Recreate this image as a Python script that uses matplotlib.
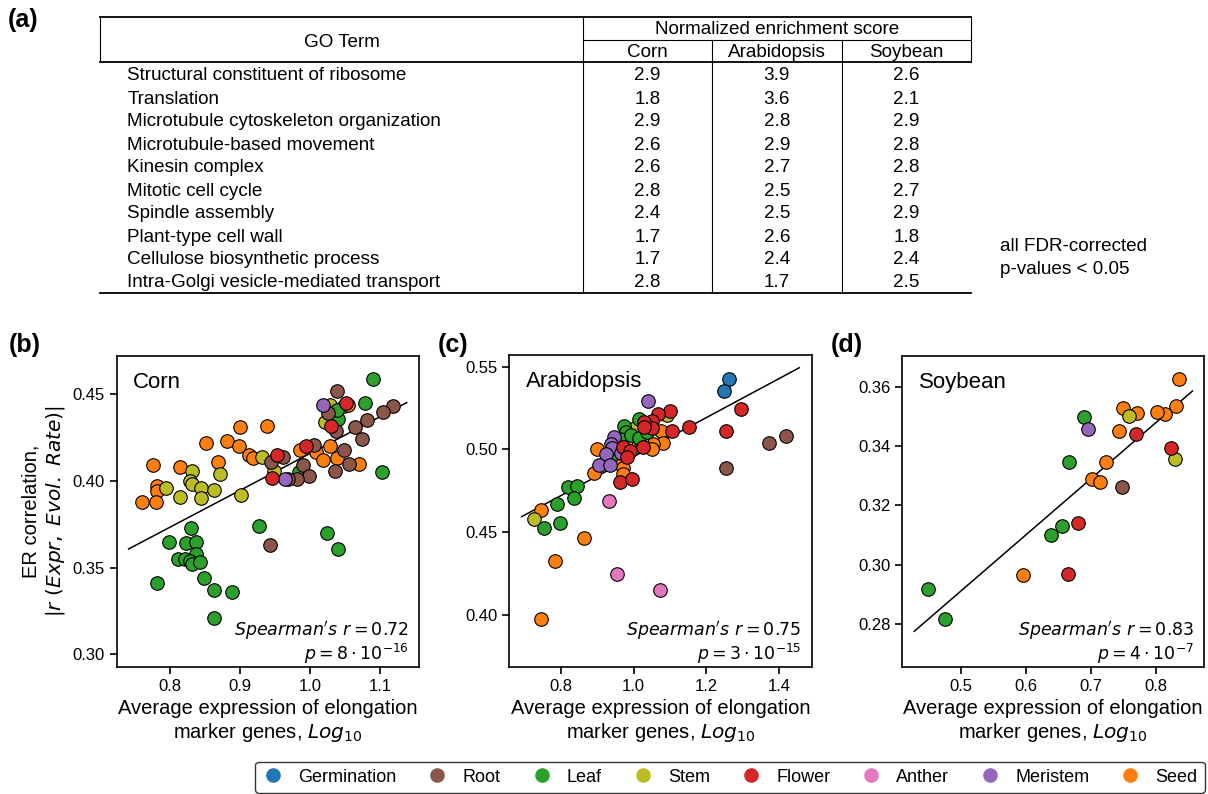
import matplotlib
matplotlib.use('Agg')
import matplotlib.pyplot as plt
from matplotlib.lines import Line2D

plt.rcParams['font.family'] = ['Liberation Sans', 'DejaVu Sans']
plt.rcParams['mathtext.fontset'] = 'dejavusans'

W, H = 1208, 794

# ---- table data (a)
go_terms = ['Structural constituent of ribosome', 'Translation',
            'Microtubule cytoskeleton organization', 'Microtubule-based movement',
            'Kinesin complex', 'Mitotic cell cycle', 'Spindle assembly',
            'Plant-type cell wall', 'Cellulose biosynthetic process',
            'Intra-Golgi vesicle-mediated transport']
species = ['Corn', 'Arabidopsis', 'Soybean']
nes_corn = [2.9, 1.8, 2.9, 2.6, 2.6, 2.8, 2.4, 1.7, 1.7, 2.8]
nes_arab = [3.9, 3.6, 2.8, 2.9, 2.7, 2.5, 2.5, 2.6, 2.4, 1.7]
nes_soy = [2.6, 2.1, 2.9, 2.8, 2.8, 2.7, 2.9, 1.8, 2.4, 2.5]

# ---- tissues
tissues = ['Germination', 'Root', 'Leaf', 'Stem', 'Flower', 'Anther', 'Meristem', 'Seed']
tissue_colors = ['#1f77b4', '#8c564b', '#2ca02c', '#bcbd22', '#d62728', '#e377c2', '#9467bd', '#ff7f0e']
draw_order = ['Seed', 'Stem', 'Leaf', 'Root', 'Meristem', 'Anther', 'Germination', 'Flower']

# ---- corn (b)
corn_seed_x = [0.900, 0.939, 0.851, 0.882, 0.898, 0.913, 0.919, 0.776, 0.814, 0.868, 0.781, 0.781, 0.760, 0.780,
               0.986, 1.009, 1.029, 1.018, 1.038, 1.070, 1.048, 1.054]
corn_seed_y = [0.431, 0.432, 0.422, 0.423, 0.420, 0.415, 0.413, 0.409, 0.408, 0.411, 0.397, 0.394, 0.388, 0.388,
               0.418, 0.417, 0.420, 0.412, 0.413, 0.410, 0.443, 0.444]
corn_stem_x = [1.028, 1.021, 0.931, 0.949, 0.832, 0.829, 0.831, 0.795, 0.844, 0.863, 0.872, 0.814, 0.845, 0.902]
corn_stem_y = [0.444, 0.434, 0.414, 0.406, 0.406, 0.400, 0.398, 0.396, 0.396, 0.395, 0.404, 0.391, 0.390, 0.392]
corn_leaf_x = [1.090, 1.079, 1.040, 1.038, 1.103, 0.984, 0.927, 1.024, 1.040, 0.830, 0.799, 0.823, 0.837, 0.837,
               0.812, 0.821, 0.829, 0.832, 0.843, 0.781, 0.849, 0.863, 0.889, 0.863]
corn_leaf_y = [0.459, 0.445, 0.436, 0.441, 0.405, 0.405, 0.374, 0.370, 0.361, 0.373, 0.365, 0.364, 0.365, 0.358,
               0.355, 0.355, 0.354, 0.352, 0.353, 0.341, 0.344, 0.337, 0.336, 0.321]
corn_root_x = [1.038, 1.119, 1.104, 1.082, 1.064, 1.037, 1.025, 1.074, 1.048, 1.055, 1.036, 1.006, 0.990, 0.999,
               0.981, 0.968, 0.962, 0.944, 0.943]
corn_root_y = [0.452, 0.443, 0.440, 0.435, 0.431, 0.429, 0.439, 0.424, 0.418, 0.410, 0.406, 0.421, 0.409, 0.403,
               0.401, 0.401, 0.414, 0.411, 0.363]
corn_flower_x = [1.052, 1.030, 0.953, 0.994, 0.945]
corn_flower_y = [0.445, 0.432, 0.415, 0.420, 0.402]
corn_meristem_x = [1.018, 0.964]
corn_meristem_y = [0.444, 0.401]
corn_fit_x = [0.741, 1.138]
corn_fit_y = [0.3608, 0.4452]

# ---- arabidopsis (c)
arab_germ_x = [1.261, 1.249]
arab_germ_y = [0.5423, 0.5355]
arab_flower_x = [1.296, 1.254, 1.151, 1.105, 1.101, 1.068, 1.050, 1.050, 1.029, 1.029, 1.025, 0.972, 0.990, 0.981,
                 0.962, 0.996]
arab_flower_y = [0.5242, 0.5113, 0.5133, 0.5111, 0.5234, 0.5212, 0.5173, 0.5127, 0.5167, 0.5137, 0.5012, 0.5016,
                 0.4992, 0.4956, 0.4804, 0.4821]
arab_root_x = [1.419, 1.371, 1.254]
arab_root_y = [0.5081, 0.5036, 0.4889]
arab_seed_x = [1.074, 1.082, 1.054, 1.052, 0.999, 0.899, 0.891, 0.963, 0.972, 0.970, 0.745, 0.864, 0.785, 0.745]
arab_seed_y = [0.5111, 0.5036, 0.5030, 0.5000, 0.5026, 0.5002, 0.4859, 0.4915, 0.4885, 0.4849, 0.4631, 0.4466,
               0.4327, 0.3972]
arab_stem_x = [1.093, 1.004, 0.980, 1.022, 0.728]
arab_stem_y = [0.5206, 0.5131, 0.5056, 0.5036, 0.4579]
arab_leaf_x = [1.015, 0.975, 0.978, 0.963, 0.992, 1.015, 1.036, 0.940, 0.820, 0.846, 0.837, 0.789, 0.753, 0.798]
arab_leaf_y = [0.5183, 0.5143, 0.5107, 0.5062, 0.5087, 0.5067, 0.5107, 0.4966, 0.4770, 0.4780, 0.4708, 0.4667,
               0.4522, 0.4552]
arab_meristem_x = [1.041, 0.947, 0.937, 0.940, 0.924, 0.906, 0.935, 0.965]
arab_meristem_y = [0.5292, 0.5077, 0.5030, 0.5006, 0.4972, 0.4905, 0.4905, 0.4976]
arab_anther_x = [0.933, 0.954, 1.072]
arab_anther_y = [0.4688, 0.4244, 0.4149]
arab_fit_x = [0.693, 1.455]
arab_fit_y = [0.4593, 0.5494]

# ---- soybean (d)
soy_seed_x = [0.836, 0.830, 0.814, 0.801, 0.770, 0.749, 0.743, 0.723, 0.701, 0.714, 0.595]
soy_seed_y = [0.3625, 0.3533, 0.3508, 0.3514, 0.3510, 0.3527, 0.3449, 0.3346, 0.3289, 0.3280, 0.2965]
soy_stem_x = [0.759, 0.829]
soy_stem_y = [0.3501, 0.3356]
soy_leaf_x = [0.689, 0.666, 0.655, 0.639, 0.449, 0.475]
soy_leaf_y = [0.3496, 0.3346, 0.3131, 0.3101, 0.2920, 0.2819]
soy_meristem_x = [0.696]
soy_meristem_y = [0.3458]
soy_flower_x = [0.769, 0.823, 0.680, 0.664]
soy_flower_y = [0.3440, 0.3392, 0.3141, 0.2970]
soy_root_x = [0.747]
soy_root_y = [0.3262]
soy_fit_x = [0.428, 0.856]
soy_fit_y = [0.2776, 0.3585]

panels = [
    dict(name='Corn', letter='(b)',
         pts={'Seed': (corn_seed_x, corn_seed_y), 'Stem': (corn_stem_x, corn_stem_y),
              'Leaf': (corn_leaf_x, corn_leaf_y), 'Root': (corn_root_x, corn_root_y),
              'Meristem': (corn_meristem_x, corn_meristem_y), 'Flower': (corn_flower_x, corn_flower_y)},
         fit=(corn_fit_x, corn_fit_y), r='0.72', p='8', e='-16',
         xlim=(0.724, 1.156), ylim=(0.2929, 0.4721),
         xticks=[0.8, 0.9, 1.0, 1.1], yticks=[0.30, 0.35, 0.40, 0.45], yfmt='%.2f', xfmt='%.1f',
         box=(116.7, 356, 419.3, 666.7)),
    dict(name='Arabidopsis', letter='(c)',
         pts={'Seed': (arab_seed_x, arab_seed_y), 'Stem': (arab_stem_x, arab_stem_y),
              'Leaf': (arab_leaf_x, arab_leaf_y), 'Root': (arab_root_x, arab_root_y),
              'Meristem': (arab_meristem_x, arab_meristem_y), 'Anther': (arab_anther_x, arab_anther_y),
              'Germination': (arab_germ_x, arab_germ_y), 'Flower': (arab_flower_x, arab_flower_y)},
         fit=(arab_fit_x, arab_fit_y), r='0.75', p='3', e='-15',
         xlim=(0.659, 1.489), ylim=(0.3685, 0.5571),
         xticks=[0.8, 1.0, 1.2, 1.4], yticks=[0.40, 0.45, 0.50, 0.55], yfmt='%.2f', xfmt='%.1f',
         box=(509.3, 355, 811.7, 666.7)),
    dict(name='Soybean', letter='(d)',
         pts={'Seed': (soy_seed_x, soy_seed_y), 'Stem': (soy_stem_x, soy_stem_y),
              'Leaf': (soy_leaf_x, soy_leaf_y), 'Root': (soy_root_x, soy_root_y),
              'Meristem': (soy_meristem_x, soy_meristem_y), 'Flower': (soy_flower_x, soy_flower_y)},
         fit=(soy_fit_x, soy_fit_y), r='0.83', p='4', e='-7',
         xlim=(0.4097, 0.8738), ylim=(0.2657, 0.3703),
         xticks=[0.5, 0.6, 0.7, 0.8], yticks=[0.28, 0.30, 0.32, 0.34, 0.36], yfmt='%.2f', xfmt='%.1f',
         box=(902.3, 356, 1204, 666.7)),
]


def fx(x):
    return x / W


def fy(y):
    return 1 - y / H


fig = plt.figure(figsize=(12.08, 7.94), dpi=100)

# ---------------- (a) table
fig.text(fx(8), fy(20), '(a)', fontsize=18, fontweight='bold', va='center', ha='left')
tl, tr = 100.4, 971.4
cols = [583, 712, 841.7]
y_top, y_mid, y_head, y_bot = 16.7, 40, 62.3, 293.3


def hline(y, x0, x1, lw):
    fig.add_artist(Line2D([fx(x0), fx(x1)], [fy(y), fy(y)], color='black', lw=lw))


def vline(x, y0, y1, lw):
    fig.add_artist(Line2D([fx(x), fx(x)], [fy(y0), fy(y1)], color='black', lw=lw))


hline(y_top, tl, tr, 1.3)
hline(y_mid, cols[0], tr, 0.8)
hline(y_head, tl, tr, 1.3)
hline(y_bot, tl, tr, 1.3)
vline(tl, y_top, y_head, 0.8)
vline(tr, y_top, y_head, 0.8)
vline(cols[0], y_top, y_bot, 0.8)
vline(cols[1], y_mid, y_bot, 0.8)
vline(cols[2], y_mid, y_bot, 0.8)

tfs = 13.6
fig.text(fx((tl + cols[0]) / 2), fy(42.3), 'GO Term', fontsize=tfs, ha='center', va='center')
fig.text(fx((cols[0] + tr) / 2), fy(30), 'Normalized enrichment score', fontsize=tfs, ha='center', va='center')
col_centres = [(cols[0] + cols[1]) / 2, (cols[1] + cols[2]) / 2, (cols[2] + tr) / 2]
for c, s in zip(col_centres, species):
    fig.text(fx(c), fy(52.5), s, fontsize=tfs, ha='center', va='center')
for i, term in enumerate(go_terms):
    yy = 76 + i * 23.0
    fig.text(fx(127.4), fy(yy), term, fontsize=tfs, ha='left', va='center')
    for c, vals in zip(col_centres, [nes_corn, nes_arab, nes_soy]):
        fig.text(fx(c), fy(yy), '%.1f' % vals[i], fontsize=tfs, ha='center', va='center')
fig.text(fx(1000), fy(246.7), 'all FDR-corrected', fontsize=tfs, ha='left', va='center')
fig.text(fx(1000), fy(270), 'p-values < 0.05', fontsize=tfs, ha='left', va='center')

# ---------------- (b)-(d) scatter panels
color_of = dict(zip(tissues, tissue_colors))
for k, pn in enumerate(panels):
    x0, y0, x1, y1 = pn['box']
    ax = fig.add_axes([fx(x0), fy(y1), (x1 - x0) / W, (y1 - y0) / H])
    for t in draw_order:
        if t in pn['pts']:
            xs, ys = pn['pts'][t]
            ax.scatter(xs, ys, s=95, color=color_of[t], edgecolors='black', linewidths=0.8, zorder=3)
    ax.plot(pn['fit'][0], pn['fit'][1], color='black', lw=1.1, zorder=2)
    ax.set_xlim(pn['xlim'])
    ax.set_ylim(pn['ylim'])
    ax.set_xticks(pn['xticks'])
    ax.set_yticks(pn['yticks'])
    ax.set_xticklabels([pn['xfmt'] % v for v in pn['xticks']])
    ax.set_yticklabels([pn['yfmt'] % v for v in pn['yticks']])
    ax.tick_params(labelsize=12, length=5, width=1.2, direction='out')
    for sp in ax.spines.values():
        sp.set_linewidth(1.2)
    ax.text(0.054, 0.915, pn['name'], transform=ax.transAxes, fontsize=16, ha='left', va='center')
    ax.text(0.965, 0.115, r"$Spearman's\ r = %s$" % pn['r'], transform=ax.transAxes,
            fontsize=12.5, ha='right', va='center')
    ax.text(0.965, 0.04, r"$p = %s \cdot 10^{%s}$" % (pn['p'], pn['e']), transform=ax.transAxes,
            fontsize=12.5, ha='right', va='center')
    ax.set_xlabel('Average expression of elongation\nmarker genes, $Log_{10}$', fontsize=14.5, labelpad=4)
    if k == 0:
        ax.set_ylabel('ER correlation,\n$|r\\ (Expr,\\ Evol.\\ Rate)|$', fontsize=14.5, labelpad=4)
    fig.text(fx(x0 - 108 if k == 0 else x0 - 72), fy(345), pn['letter'], fontsize=18,
             fontweight='bold', ha='left', va='center')

# ---------------- legend
handles = [Line2D([], [], marker='o', linestyle='none', markersize=9.5, color=c) for c in tissue_colors]
leg = fig.legend(handles, tissues, loc='lower left', ncol=8, mode='expand', fontsize=13,
                 bbox_to_anchor=(fx(255), fy(793), (1205 - 255) / W, (793 - 757) / H),
                 frameon=True, handletextpad=0.8, borderaxespad=0, handlelength=1.2)
leg.get_frame().set_edgecolor('black')
leg.get_frame().set_linewidth(1.0)

fig.savefig('out.png', dpi=100)
